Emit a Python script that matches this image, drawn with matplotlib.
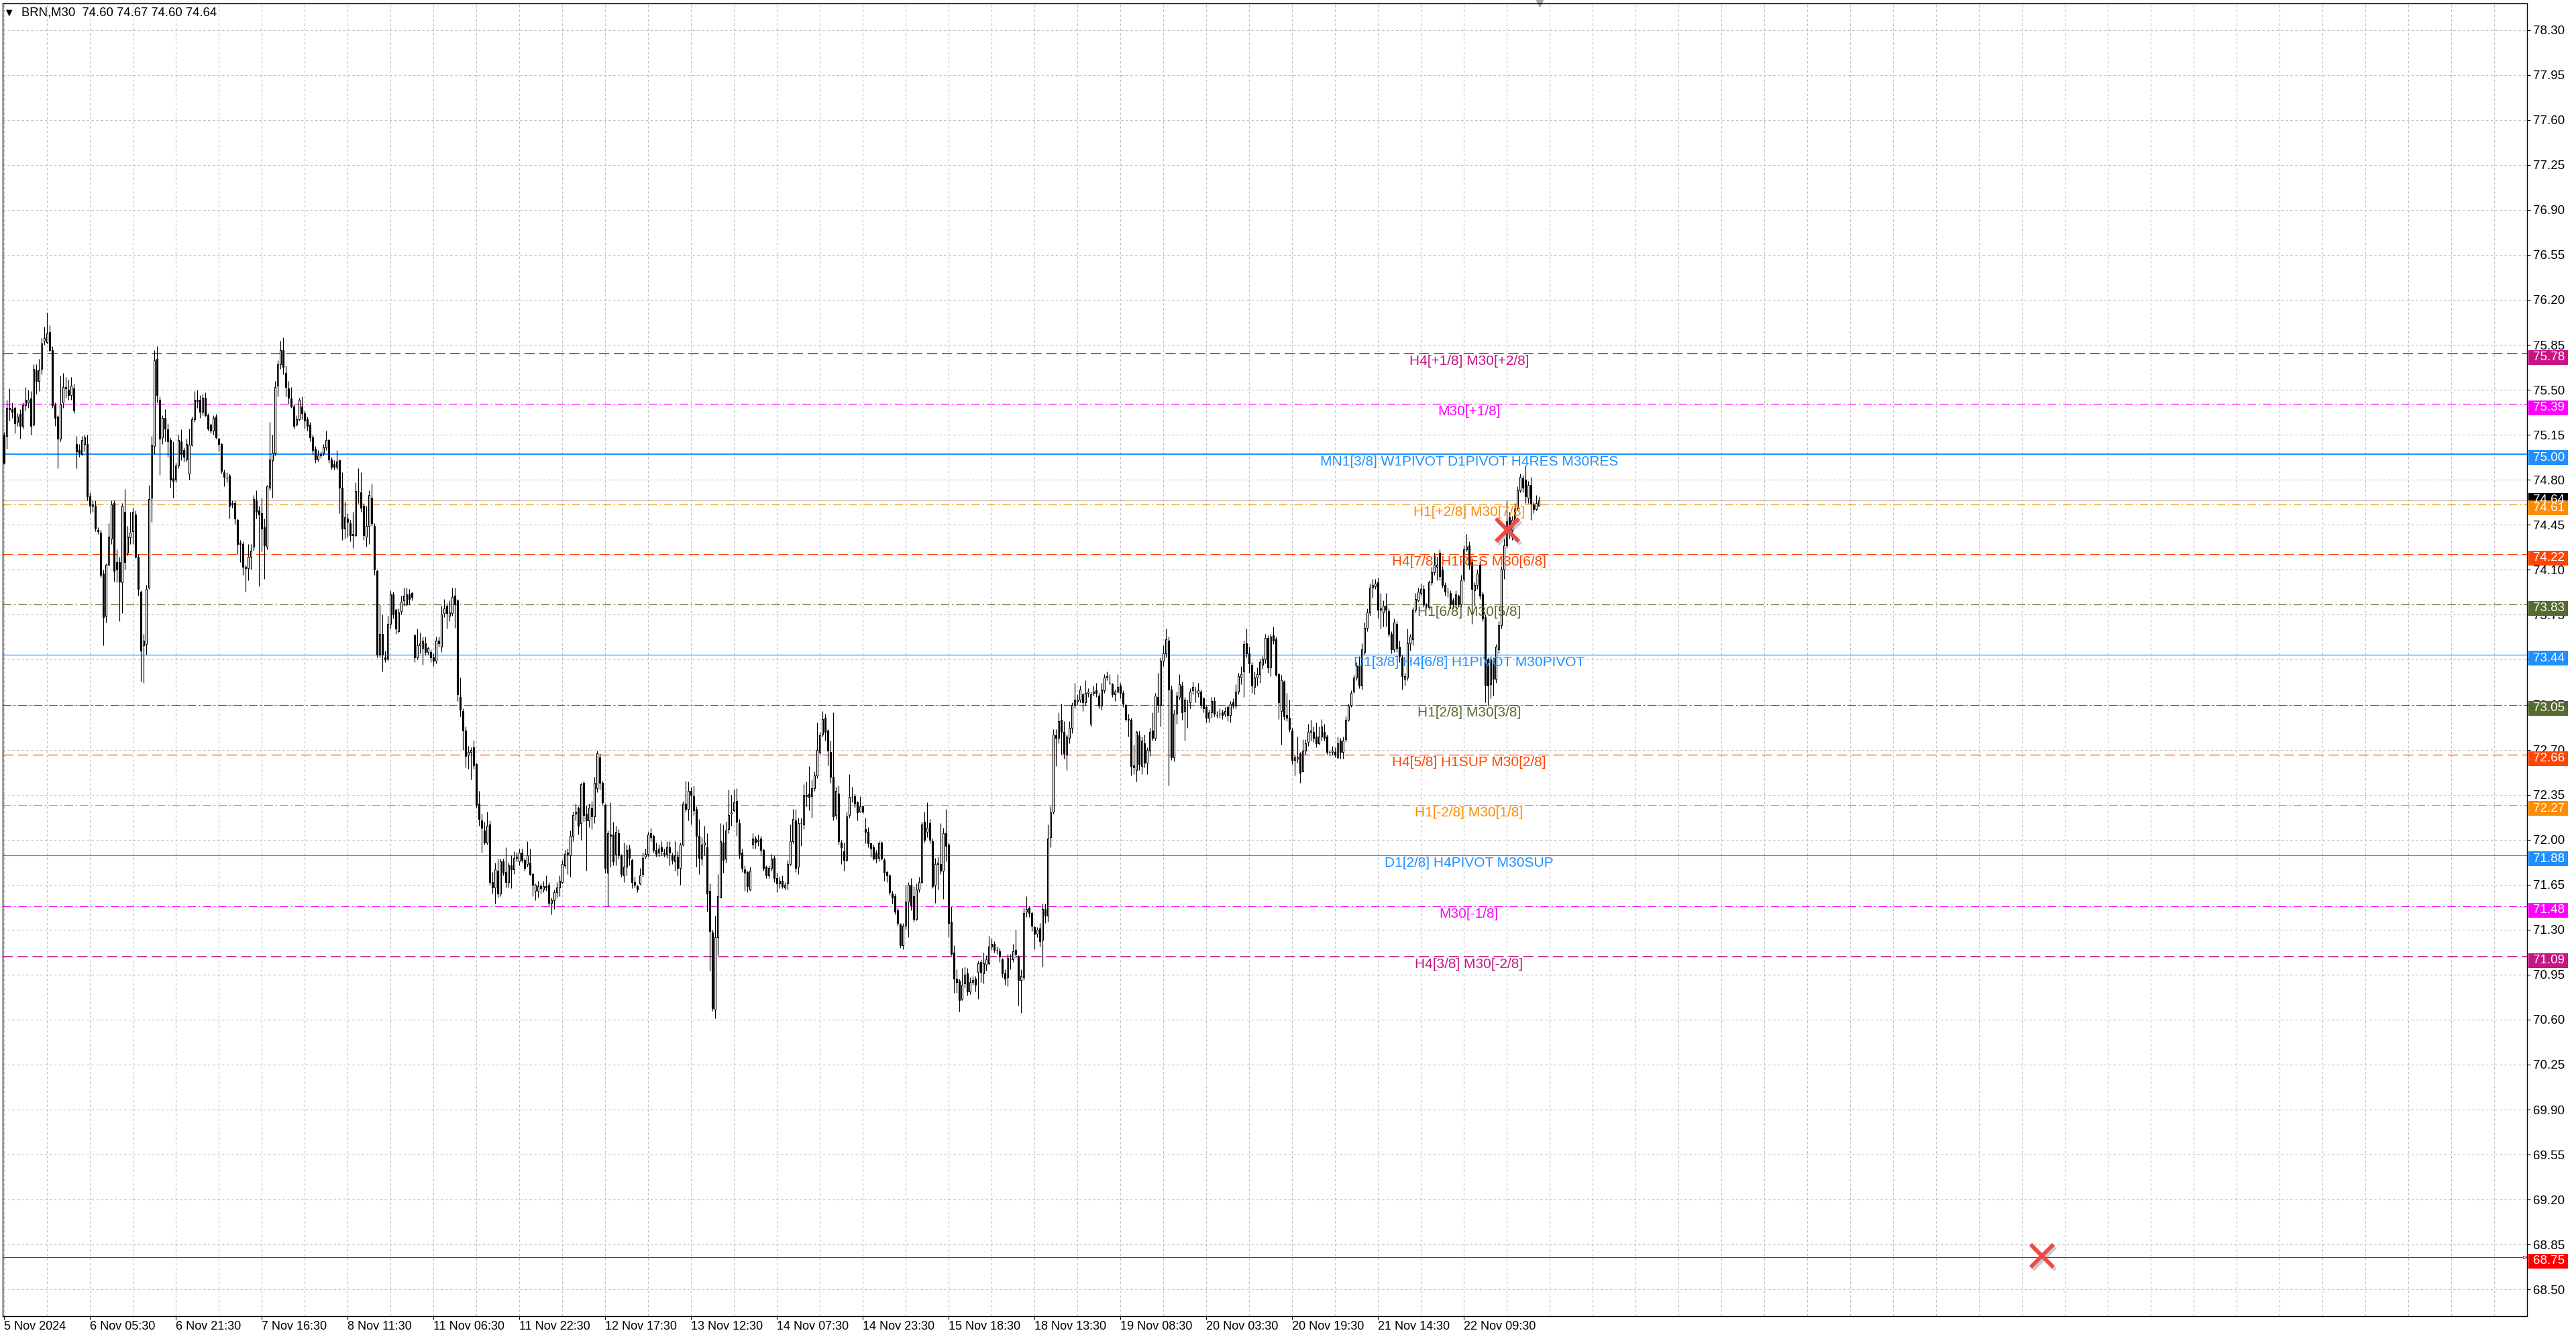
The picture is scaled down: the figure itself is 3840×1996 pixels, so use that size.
import numpy as np
import matplotlib.pyplot as plt
from matplotlib.patches import Rectangle
from matplotlib.transforms import blended_transform_factory, offset_copy

plt.rcParams['font.family'] = ['Liberation Sans', 'DejaVu Sans']
plt.rcParams['lines.scale_dashes'] = False

# --- BRN,M30 candles (bar index 0 = 5 Nov 2024) ---
opens = [
    75.15, 75.14, 75.36, 75.35, 75.36, 75.25, 75.31, 75.22, 75.38, 75.40,
    75.43, 75.23, 75.65, 75.57, 75.66, 75.88, 75.87, 75.95, 75.81, 75.38,
    75.29, 75.12, 75.40, 75.52, 75.50, 75.46, 75.51, 75.08, 75.03, 75.00,
    75.08, 75.08, 74.67, 74.61, 74.60, 74.41, 74.39, 74.07, 73.74, 74.14,
    74.34, 74.62, 74.16, 74.16, 74.00, 74.55, 74.23, 74.35, 74.40, 74.53,
    74.20, 73.93, 73.51, 73.52, 73.96, 74.66, 75.06, 75.74, 75.42, 75.13,
    75.28, 75.19, 75.11, 74.81, 74.80, 74.91, 75.10, 75.03, 74.96, 74.85,
    75.07, 75.27, 75.42, 75.42, 75.33, 75.44, 75.30, 75.23, 75.18, 75.29,
    75.12, 75.08, 74.86, 74.81, 74.83, 74.62, 74.62, 74.49, 74.31, 74.30,
    74.11, 74.11, 74.20, 74.28, 74.64, 74.56, 74.54, 74.43, 74.28, 74.74,
    74.95, 75.01, 75.53, 75.70, 75.81, 75.63, 75.51, 75.43, 75.37, 75.23,
    75.27, 75.37, 75.32, 75.27, 75.23, 75.13, 75.04, 74.96, 74.99, 75.01,
    75.05, 75.11, 74.96, 74.92, 74.90, 74.95, 74.74, 74.42, 74.50, 74.46,
    74.37, 74.37, 74.71, 74.70, 74.60, 74.36, 74.44, 74.66, 74.44, 74.09,
    73.44, 73.60, 73.42, 73.41, 73.68, 73.91, 73.79, 73.62, 73.78, 73.86,
    73.83, 73.91, 73.92, 73.59, 73.42, 73.51, 73.49, 73.53, 73.46, 73.46,
    73.42, 73.39, 73.55, 73.50, 73.76, 73.82, 73.74, 73.76, 73.90, 73.86,
    73.11, 73.00, 72.85, 72.66, 72.68, 72.72, 72.59, 72.28, 72.15, 72.07,
    71.98, 72.12, 71.67, 71.63, 71.76, 71.58, 71.83, 71.75, 71.67, 71.80,
    71.77, 71.86, 71.83, 71.90, 71.84, 71.81, 71.82, 71.73, 71.60, 71.60,
    71.64, 71.61, 71.64, 71.65, 71.51, 71.53, 71.59, 71.63, 71.67, 71.80,
    71.90, 71.88, 72.03, 72.20, 72.25, 72.13, 72.44, 72.20, 72.15, 72.25,
    72.18, 72.40, 72.64, 72.44, 72.27, 71.74, 72.04, 72.04, 71.89, 72.05,
    71.88, 71.72, 71.79, 71.93, 71.84, 71.67, 71.64, 71.66, 71.73, 71.87,
    71.89, 72.05, 72.03, 71.92, 71.90, 71.94, 71.90, 71.89, 71.94, 71.88,
    71.83, 71.87, 71.78, 71.96, 72.28, 72.24, 72.38, 72.34, 72.24, 72.03,
    71.85, 71.96, 71.94, 71.60, 71.28, 70.68, 71.24, 71.55, 71.98, 71.85,
    72.08, 72.20, 72.23, 72.30, 72.13, 71.90, 71.77, 71.75, 71.61, 71.96,
    72.01, 71.99, 72.01, 71.92, 71.79, 71.72, 71.78, 71.86, 71.70, 71.66,
    71.68, 71.63, 71.66, 71.81, 71.99, 72.15, 71.79, 72.13, 72.12, 72.34,
    72.36, 72.34, 72.40, 72.50, 72.68, 72.82, 72.95, 72.85, 72.68, 72.49,
    72.19, 72.36, 71.98, 71.91, 71.84, 72.19, 72.33, 72.34, 72.29, 72.22,
    72.26, 72.08, 72.06, 71.97, 71.94, 71.90, 71.86, 71.98, 71.84, 71.75,
    71.72, 71.58, 71.56, 71.45, 71.34, 71.18, 71.33, 71.52, 71.65, 71.56,
    71.38, 71.61, 71.67, 72.14, 72.06, 72.13, 71.99, 71.65, 71.81, 71.81,
    71.76, 72.05, 71.96, 71.36, 71.12, 70.92, 70.90, 70.76, 70.88, 70.96,
    70.82, 70.89, 70.92, 70.97, 71.05, 70.96, 71.03, 71.04, 71.17, 71.19,
    71.14, 71.13, 71.07, 70.96, 70.93, 71.07, 71.07, 71.14, 71.09, 70.91,
    70.93, 71.44, 71.47, 71.43, 71.32, 71.27, 71.31, 71.22, 71.46, 71.41,
    72.02, 72.22, 72.81, 72.79, 72.93, 72.84, 72.66, 72.79, 72.87, 73.05,
    73.08, 73.09, 73.13, 73.07, 73.14, 72.90, 73.14, 73.16, 73.12, 73.04,
    73.16, 73.26, 73.22, 73.21, 73.13, 73.15, 73.20, 73.14, 73.05, 72.94,
    72.93, 72.58, 72.54, 72.81, 72.57, 72.75, 72.60, 72.69, 72.85, 72.79,
    73.11, 73.05, 73.39, 73.45, 73.55, 73.17, 72.64, 72.98, 73.11, 73.20,
    73.00, 73.06, 73.07, 73.16, 73.15, 73.14, 73.15, 73.10, 73.03, 72.95,
    72.99, 73.08, 72.97, 72.98, 72.99, 72.98, 73.03, 72.97, 73.07, 73.04,
    73.15, 73.26, 73.31, 73.53, 73.45, 73.36, 73.19, 73.26, 73.29, 73.36,
    73.40, 73.57, 73.34, 73.59, 73.56, 73.29, 73.00, 73.23, 72.97, 72.95,
    72.85, 72.62, 72.63, 72.67, 72.53, 72.69, 72.76, 72.84, 72.84, 72.80,
    72.75, 72.80, 72.84, 72.80, 72.68, 72.68, 72.68, 72.64, 72.77, 72.68,
    72.78, 72.93, 73.05, 73.15, 73.26, 73.35, 73.20, 73.46, 73.65, 73.77,
    73.96, 73.97, 74.00, 73.80, 73.77, 73.82, 73.78, 73.60, 73.48, 73.68,
    73.50, 73.42, 73.25, 73.26, 73.53, 73.56, 73.79, 73.86, 73.92, 73.95,
    73.83, 73.81, 74.00, 74.08, 74.12, 74.23, 74.10, 73.98, 73.93, 73.92,
    73.86, 73.83, 73.90, 73.83, 74.03, 74.26, 74.29, 74.16, 73.94, 73.98,
    74.14, 73.91, 73.73, 73.40, 73.21, 73.40, 73.25, 73.48, 73.67, 74.10,
    74.29, 74.51, 74.41, 74.49, 74.58, 74.72, 74.81, 74.80, 74.66, 74.76,
    74.61, 74.57, 74.60,
]
highs = [
    75.17, 75.42, 75.51, 75.40, 75.37, 75.32, 75.35, 75.40, 75.52, 75.50,
    75.49, 75.70, 75.70, 75.74, 75.90, 75.99, 76.10, 76.00, 75.84, 75.40,
    75.30, 75.61, 75.63, 75.60, 75.58, 75.60, 75.55, 75.14, 75.08, 75.14,
    75.15, 75.15, 74.70, 74.64, 74.64, 74.43, 74.41, 74.10, 74.15, 74.46,
    74.64, 74.64, 74.26, 74.20, 74.62, 74.73, 74.44, 74.55, 74.58, 74.56,
    74.22, 73.94, 73.60, 73.98, 74.76, 75.14, 75.81, 75.84, 75.45, 75.30,
    75.35, 75.24, 75.13, 75.10, 74.93, 75.15, 75.19, 75.05, 75.12, 75.20,
    75.29, 75.49, 75.50, 75.46, 75.47, 75.48, 75.32, 75.24, 75.30, 75.31,
    75.13, 75.09, 74.88, 74.86, 74.85, 74.64, 74.64, 74.50, 74.33, 74.32,
    74.14, 74.30, 74.30, 74.68, 74.72, 74.60, 74.66, 74.50, 74.76, 75.25,
    75.15, 75.57, 75.73, 75.88, 75.91, 75.69, 75.57, 75.52, 75.39, 75.30,
    75.44, 75.45, 75.34, 75.29, 75.25, 75.15, 75.06, 75.03, 75.02, 75.08,
    75.18, 75.12, 74.98, 74.95, 75.03, 74.96, 74.86, 74.63, 74.54, 74.49,
    74.55, 74.78, 74.89, 74.86, 74.62, 74.60, 74.72, 74.77, 74.46, 74.10,
    73.83, 73.75, 73.47, 73.74, 73.94, 73.93, 73.80, 73.80, 73.90, 73.96,
    73.96, 73.95, 73.93, 73.60, 73.64, 73.61, 73.58, 73.58, 73.50, 73.48,
    73.45, 73.58, 73.58, 73.82, 73.87, 73.84, 73.86, 73.96, 73.96, 73.87,
    73.26, 73.02, 72.88, 72.73, 72.72, 72.77, 72.60, 72.38, 72.20, 72.14,
    72.22, 72.15, 71.75, 71.82, 71.85, 71.85, 71.85, 71.94, 71.82, 71.88,
    71.91, 71.90, 71.93, 71.93, 71.86, 71.99, 71.93, 71.74, 71.66, 71.68,
    71.66, 71.68, 71.72, 71.67, 71.55, 71.61, 71.67, 71.72, 71.84, 71.92,
    71.93, 72.07, 72.22, 72.28, 72.26, 72.44, 72.46, 72.27, 72.28, 72.30,
    72.49, 72.69, 72.67, 72.46, 72.28, 72.07, 72.29, 72.14, 72.11, 72.08,
    71.89, 71.98, 71.96, 71.96, 71.85, 71.71, 71.65, 71.78, 71.90, 71.93,
    72.06, 72.09, 72.04, 71.98, 71.96, 71.99, 71.93, 71.99, 71.99, 71.90,
    71.99, 71.91, 71.98, 72.30, 72.46, 72.45, 72.41, 72.42, 72.26, 72.16,
    72.02, 72.11, 72.05, 71.66, 71.30, 71.41, 71.73, 72.13, 72.12, 72.14,
    72.39, 72.35, 72.39, 72.40, 72.16, 71.93, 71.80, 71.76, 71.79, 72.05,
    72.03, 72.04, 72.03, 71.93, 71.80, 71.80, 71.89, 71.88, 71.74, 71.71,
    71.72, 71.67, 71.84, 72.12, 72.24, 72.24, 72.17, 72.17, 72.43, 72.45,
    72.57, 72.47, 72.53, 72.91, 72.84, 73.00, 72.98, 72.86, 72.77, 72.99,
    72.41, 72.42, 72.00, 71.98, 72.22, 72.51, 72.41, 72.36, 72.30, 72.34,
    72.27, 72.17, 72.10, 71.98, 71.96, 71.92, 71.99, 71.99, 71.86, 71.76,
    71.73, 71.60, 71.58, 71.47, 71.35, 71.35, 71.65, 71.67, 71.70, 71.64,
    71.66, 71.71, 72.14, 72.22, 72.29, 72.16, 72.01, 71.86, 71.87, 72.13,
    72.09, 72.24, 71.98, 71.48, 71.18, 70.99, 70.92, 71.00, 71.01, 71.00,
    70.93, 70.94, 70.94, 71.06, 71.07, 71.12, 71.10, 71.25, 71.23, 71.21,
    71.17, 71.16, 71.08, 70.99, 71.11, 71.11, 71.19, 71.30, 71.10, 70.99,
    71.47, 71.56, 71.48, 71.44, 71.33, 71.32, 71.35, 71.50, 71.50, 72.12,
    72.26, 72.86, 72.86, 72.99, 73.06, 72.92, 72.82, 72.92, 73.07, 73.22,
    73.13, 73.20, 73.14, 73.24, 73.18, 73.15, 73.20, 73.22, 73.14, 73.22,
    73.29, 73.31, 73.29, 73.22, 73.17, 73.29, 73.22, 73.16, 73.06, 72.98,
    72.95, 72.74, 72.85, 72.85, 72.80, 72.82, 72.72, 72.87, 72.99, 73.14,
    73.30, 73.42, 73.51, 73.64, 73.58, 73.20, 73.01, 73.15, 73.29, 73.23,
    73.11, 73.09, 73.18, 73.23, 73.19, 73.22, 73.17, 73.11, 73.04, 73.01,
    73.11, 73.11, 73.00, 73.02, 73.01, 73.03, 73.05, 73.08, 73.10, 73.21,
    73.30, 73.35, 73.55, 73.64, 73.50, 73.38, 73.31, 73.34, 73.41, 73.43,
    73.60, 73.59, 73.60, 73.66, 73.58, 73.30, 73.28, 73.24, 73.14, 73.09,
    72.87, 72.66, 72.80, 72.68, 72.78, 72.78, 72.90, 72.93, 72.88, 72.91,
    72.88, 72.94, 72.90, 72.82, 72.70, 72.73, 72.72, 72.80, 72.79, 72.80,
    72.96, 73.06, 73.16, 73.28, 73.38, 73.43, 73.53, 73.69, 73.80, 73.99,
    74.03, 74.03, 74.04, 73.92, 73.86, 73.92, 73.80, 73.62, 73.72, 73.70,
    73.55, 73.44, 73.30, 73.64, 73.60, 73.81, 73.92, 73.96, 73.99, 73.98,
    73.84, 74.02, 74.12, 74.23, 74.20, 74.26, 74.13, 74.00, 73.96, 73.94,
    73.88, 73.94, 73.91, 74.06, 74.29, 74.38, 74.32, 74.19, 74.00, 74.10,
    74.17, 73.93, 73.75, 73.42, 73.43, 73.42, 73.52, 73.70, 74.13, 74.34,
    74.64, 74.55, 74.52, 74.62, 74.75, 74.85, 74.84, 74.91, 74.79, 74.82,
    74.63, 74.68, 74.67,
]
lows = [
    74.92, 75.04, 75.26, 75.28, 75.16, 75.22, 75.12, 75.20, 75.34, 75.36,
    75.15, 75.22, 75.47, 75.49, 75.62, 75.85, 75.86, 75.80, 75.36, 75.22,
    74.89, 75.10, 75.36, 75.44, 75.42, 75.42, 75.32, 74.89, 74.98, 74.99,
    75.02, 74.64, 74.54, 74.55, 74.40, 74.38, 74.04, 73.51, 73.69, 74.14,
    74.30, 74.01, 74.00, 73.70, 73.76, 74.10, 74.21, 74.30, 74.30, 74.19,
    73.90, 73.23, 73.22, 73.44, 73.95, 74.47, 75.00, 75.40, 74.84, 75.08,
    75.10, 74.98, 74.74, 74.66, 74.78, 74.89, 74.95, 74.94, 74.94, 74.80,
    75.06, 75.25, 75.36, 75.28, 75.30, 75.29, 75.18, 75.16, 75.15, 75.12,
    75.02, 74.85, 74.75, 74.78, 74.50, 74.58, 74.45, 74.22, 74.16, 74.06,
    73.93, 74.02, 74.10, 74.25, 74.50, 73.97, 74.24, 74.03, 74.26, 74.72,
    74.66, 74.99, 75.45, 75.66, 75.62, 75.45, 75.39, 75.36, 75.20, 75.22,
    75.26, 75.27, 75.20, 75.18, 75.10, 75.00, 74.93, 74.94, 74.97, 74.99,
    75.03, 74.93, 74.88, 74.88, 74.88, 74.54, 74.33, 74.34, 74.36, 74.32,
    74.27, 74.36, 74.62, 74.55, 74.33, 74.28, 74.30, 74.44, 74.06, 73.42,
    73.42, 73.31, 73.38, 73.39, 73.64, 73.72, 73.60, 73.61, 73.75, 73.82,
    73.82, 73.83, 73.86, 73.38, 73.40, 73.45, 73.36, 73.44, 73.44, 73.38,
    73.35, 73.37, 73.50, 73.46, 73.73, 73.64, 73.70, 73.74, 73.65, 73.08,
    72.96, 72.70, 72.56, 72.55, 72.47, 72.55, 72.25, 72.11, 71.90, 71.96,
    71.96, 71.65, 71.58, 71.50, 71.55, 71.56, 71.72, 71.63, 71.63, 71.62,
    71.73, 71.83, 71.80, 71.82, 71.76, 71.79, 71.72, 71.56, 71.53, 71.55,
    71.58, 71.59, 71.60, 71.48, 71.42, 71.46, 71.55, 71.56, 71.66, 71.78,
    71.73, 71.71, 71.99, 72.15, 72.04, 72.00, 72.14, 71.76, 72.10, 72.08,
    72.13, 72.37, 72.39, 72.27, 71.74, 71.48, 71.79, 71.80, 71.80, 71.85,
    71.71, 71.67, 71.72, 71.80, 71.62, 71.63, 71.59, 71.65, 71.71, 71.85,
    71.87, 71.99, 71.90, 71.87, 71.87, 71.88, 71.87, 71.86, 71.80, 71.81,
    71.76, 71.72, 71.65, 71.95, 72.22, 72.15, 72.12, 72.19, 71.79, 71.73,
    71.80, 71.88, 71.44, 70.98, 70.67, 70.61, 71.10, 71.55, 71.74, 71.82,
    72.05, 72.11, 72.22, 72.03, 71.85, 71.75, 71.60, 71.59, 71.60, 71.93,
    71.93, 71.95, 71.88, 71.76, 71.70, 71.70, 71.76, 71.67, 71.59, 71.62,
    71.62, 71.61, 71.61, 71.80, 71.97, 71.75, 71.73, 71.95, 72.08, 72.26,
    72.23, 72.17, 72.38, 72.48, 72.66, 72.80, 72.77, 72.58, 72.44, 72.15,
    72.16, 71.96, 71.81, 71.76, 71.83, 72.17, 72.29, 72.25, 72.15, 72.21,
    72.20, 71.97, 71.94, 71.87, 71.84, 71.82, 71.83, 71.84, 71.68, 71.67,
    71.57, 71.50, 71.42, 71.33, 71.16, 71.15, 71.30, 71.24, 71.45, 71.36,
    71.37, 71.59, 71.66, 71.98, 72.02, 71.97, 71.62, 71.51, 71.61, 71.73,
    71.54, 71.83, 71.24, 71.10, 70.81, 70.81, 70.66, 70.75, 70.85, 70.79,
    70.80, 70.87, 70.82, 70.76, 70.89, 70.88, 70.98, 71.03, 71.14, 71.12,
    71.11, 71.05, 70.93, 70.87, 70.86, 70.99, 71.05, 71.08, 70.71, 70.65,
    70.91, 71.40, 71.40, 71.29, 71.15, 71.24, 71.17, 71.01, 71.35, 71.36,
    71.94, 72.20, 72.57, 72.75, 72.66, 72.63, 72.54, 72.75, 72.83, 73.02,
    73.05, 73.07, 73.00, 73.05, 73.11, 72.88, 73.12, 73.11, 73.02, 73.01,
    73.14, 73.24, 73.21, 73.11, 73.08, 73.14, 73.10, 73.03, 72.92, 72.80,
    72.50, 72.51, 72.45, 72.54, 72.51, 72.56, 72.51, 72.65, 72.77, 72.77,
    72.99, 72.88, 73.35, 73.42, 72.42, 72.62, 72.61, 72.90, 73.09, 72.93,
    72.77, 72.87, 73.02, 73.13, 73.07, 73.11, 73.02, 72.99, 72.91, 72.91,
    72.95, 72.96, 72.95, 72.95, 72.94, 72.96, 72.92, 72.91, 73.02, 73.02,
    73.13, 73.21, 73.11, 73.42, 73.30, 73.14, 73.13, 73.20, 73.22, 73.33,
    73.37, 73.30, 73.27, 73.52, 73.27, 72.94, 72.74, 72.93, 72.92, 72.84,
    72.59, 72.50, 72.60, 72.44, 72.53, 72.66, 72.73, 72.77, 72.76, 72.72,
    72.74, 72.77, 72.77, 72.66, 72.65, 72.66, 72.64, 72.63, 72.63, 72.63,
    72.76, 72.92, 73.03, 73.14, 73.24, 73.18, 73.17, 73.44, 73.62, 73.74,
    73.88, 73.95, 73.72, 73.64, 73.66, 73.66, 73.58, 73.45, 73.46, 73.46,
    73.38, 73.17, 73.20, 73.24, 73.47, 73.51, 73.77, 73.85, 73.90, 73.81,
    73.80, 73.79, 73.98, 74.06, 74.02, 74.02, 73.96, 73.90, 73.89, 73.80,
    73.80, 73.80, 73.81, 73.81, 74.01, 74.24, 74.10, 73.68, 73.82, 73.95,
    73.87, 73.70, 73.07, 73.04, 73.10, 73.12, 73.22, 73.45, 73.64, 74.03,
    74.27, 74.34, 74.33, 74.47, 74.56, 74.70, 74.70, 74.62, 74.62, 74.49,
    74.54, 74.56, 74.60,
]
closes = [
    74.93, 75.36, 75.35, 75.33, 75.24, 75.29, 75.22, 75.38, 75.42, 75.42,
    75.22, 75.66, 75.57, 75.65, 75.86, 75.90, 75.94, 75.81, 75.38, 75.28,
    75.12, 75.39, 75.52, 75.51, 75.46, 75.53, 75.34, 75.02, 75.01, 75.11,
    75.13, 74.67, 74.60, 74.60, 74.42, 74.40, 74.06, 73.73, 74.14, 74.36,
    74.61, 74.09, 74.10, 74.01, 74.60, 74.16, 74.36, 74.39, 74.55, 74.20,
    73.95, 73.47, 73.55, 73.95, 74.65, 75.07, 75.73, 75.46, 75.12, 75.28,
    75.20, 75.10, 74.80, 74.79, 74.91, 75.11, 75.00, 74.98, 75.08, 75.07,
    75.27, 75.42, 75.41, 75.33, 75.44, 75.30, 75.20, 75.18, 75.28, 75.13,
    75.08, 74.87, 74.82, 74.81, 74.60, 74.61, 74.50, 74.30, 74.30, 74.12,
    74.12, 74.20, 74.25, 74.65, 74.55, 74.53, 74.42, 74.29, 74.75, 74.96,
    75.01, 75.52, 75.70, 75.81, 75.68, 75.52, 75.44, 75.37, 75.22, 75.27,
    75.42, 75.32, 75.26, 75.22, 75.13, 75.03, 74.96, 74.99, 75.00, 75.05,
    75.11, 74.96, 74.90, 74.90, 74.94, 74.74, 74.42, 74.51, 74.47, 74.37,
    74.38, 74.71, 74.71, 74.58, 74.37, 74.44, 74.68, 74.46, 74.10, 73.44,
    73.60, 73.44, 73.40, 73.68, 73.91, 73.75, 73.64, 73.77, 73.85, 73.90,
    73.91, 73.87, 73.89, 73.42, 73.51, 73.53, 73.55, 73.46, 73.49, 73.42,
    73.39, 73.55, 73.53, 73.75, 73.80, 73.76, 73.77, 73.89, 73.83, 73.13,
    73.01, 72.85, 72.65, 72.68, 72.70, 72.58, 72.27, 72.16, 72.09, 71.98,
    72.11, 71.67, 71.63, 71.77, 71.58, 71.83, 71.74, 71.67, 71.80, 71.77,
    71.86, 71.87, 71.90, 71.84, 71.78, 71.88, 71.73, 71.65, 71.65, 71.64,
    71.62, 71.64, 71.63, 71.51, 71.53, 71.59, 71.63, 71.68, 71.81, 71.89,
    71.89, 72.03, 72.19, 72.22, 72.11, 72.43, 72.19, 72.15, 72.25, 72.18,
    72.44, 72.67, 72.44, 72.29, 71.78, 72.05, 72.03, 71.83, 72.06, 71.88,
    71.73, 71.79, 71.92, 71.86, 71.67, 71.65, 71.61, 71.72, 71.86, 71.89,
    72.04, 72.02, 71.92, 71.89, 71.93, 71.91, 71.89, 71.94, 71.90, 71.84,
    71.88, 71.78, 71.96, 72.28, 72.24, 72.38, 72.35, 72.23, 72.03, 71.86,
    71.96, 71.98, 71.58, 71.29, 70.69, 71.24, 71.56, 71.99, 71.84, 72.07,
    72.19, 72.21, 72.29, 72.14, 71.89, 71.78, 71.74, 71.64, 71.76, 72.01,
    71.98, 72.00, 71.92, 71.78, 71.72, 71.78, 71.85, 71.70, 71.66, 71.68,
    71.64, 71.65, 71.81, 71.99, 72.16, 71.78, 72.13, 72.13, 72.35, 72.35,
    72.33, 72.40, 72.50, 72.70, 72.81, 72.94, 72.84, 72.69, 72.49, 72.18,
    72.38, 71.99, 71.94, 71.84, 72.18, 72.33, 72.33, 72.28, 72.21, 72.26,
    72.22, 72.06, 71.97, 71.93, 71.85, 71.85, 71.97, 71.85, 71.75, 71.72,
    71.59, 71.55, 71.44, 71.35, 71.18, 71.33, 71.52, 71.65, 71.49, 71.38,
    71.61, 71.67, 72.12, 72.00, 72.09, 72.00, 71.64, 71.81, 71.82, 71.76,
    72.05, 71.95, 71.35, 71.11, 70.92, 70.89, 70.75, 70.87, 70.95, 70.82,
    70.89, 70.91, 70.87, 71.04, 70.97, 71.04, 71.07, 71.17, 71.19, 71.14,
    71.14, 71.09, 70.96, 70.92, 71.08, 71.07, 71.13, 71.11, 70.91, 70.94,
    71.43, 71.46, 71.43, 71.33, 71.27, 71.30, 71.21, 71.46, 71.41, 72.01,
    72.21, 72.82, 72.79, 72.92, 72.84, 72.67, 72.80, 72.87, 73.05, 73.09,
    73.09, 73.17, 73.07, 73.14, 73.15, 73.13, 73.15, 73.14, 73.04, 73.17,
    73.26, 73.27, 73.22, 73.13, 73.15, 73.19, 73.14, 73.06, 72.94, 72.93,
    72.57, 72.56, 72.84, 72.59, 72.77, 72.60, 72.70, 72.84, 72.79, 73.12,
    73.05, 73.39, 73.45, 73.56, 73.17, 72.64, 72.98, 73.12, 73.21, 72.99,
    73.09, 73.06, 73.15, 73.19, 73.15, 73.16, 73.05, 73.02, 72.95, 72.99,
    73.08, 72.98, 72.97, 72.98, 72.97, 73.00, 72.97, 73.06, 73.04, 73.15,
    73.27, 73.29, 73.52, 73.45, 73.37, 73.20, 73.26, 73.29, 73.38, 73.41,
    73.57, 73.34, 73.58, 73.55, 73.28, 73.07, 73.24, 72.96, 72.95, 72.86,
    72.62, 72.64, 72.64, 72.52, 72.69, 72.75, 72.84, 72.85, 72.79, 72.75,
    72.80, 72.88, 72.79, 72.68, 72.68, 72.69, 72.66, 72.75, 72.68, 72.77,
    72.93, 73.04, 73.14, 73.26, 73.35, 73.20, 73.48, 73.65, 73.77, 73.96,
    73.98, 73.99, 73.79, 73.79, 73.82, 73.79, 73.60, 73.48, 73.69, 73.49,
    73.43, 73.27, 73.27, 73.53, 73.58, 73.79, 73.87, 73.93, 73.95, 73.83,
    73.82, 74.00, 74.08, 74.14, 74.14, 74.05, 73.98, 73.93, 73.93, 73.83,
    73.83, 73.91, 73.83, 74.02, 74.26, 74.28, 74.14, 73.95, 73.98, 74.07,
    73.90, 73.72, 73.20, 73.20, 73.40, 73.25, 73.50, 73.67, 74.10, 74.29,
    74.48, 74.41, 74.49, 74.58, 74.72, 74.82, 74.74, 74.67, 74.76, 74.62,
    74.57, 74.62, 74.64,
]

# x-axis labels, one every 32 bars
time_labels = ['5 Nov 2024', '6 Nov 05:30', '6 Nov 21:30', '7 Nov 16:30', '8 Nov 11:30',
               '11 Nov 06:30', '11 Nov 22:30', '12 Nov 17:30', '13 Nov 12:30', '14 Nov 07:30',
               '14 Nov 23:30', '15 Nov 18:30', '18 Nov 13:30', '19 Nov 08:30', '20 Nov 03:30',
               '20 Nov 19:30', '21 Nov 14:30', '22 Nov 09:30']

# price axis ticks
price_ticks = [78.30, 77.95, 77.60, 77.25, 76.90, 76.55, 76.20, 75.85, 75.50, 75.15, 74.80,
               74.45, 74.10, 73.75, 73.40, 73.05, 72.70, 72.35, 72.00, 71.65, 71.30, 70.95,
               70.60, 70.25, 69.90, 69.55, 69.20, 68.85, 68.50]

# Murrey math levels
level_prices = [75.78, 75.39, 75.00, 74.61, 74.22, 73.83, 73.44, 73.05, 72.66, 72.27, 71.88, 71.48, 71.09]
level_names = ['H4[+1/8] M30[+2/8]', 'M30[+1/8]', 'MN1[3/8] W1PIVOT D1PIVOT H4RES M30RES',
               'H1[+2/8] M30[7/8]', 'H4[7/8] H1RES M30[6/8]', 'H1[6/8] M30[5/8]',
               'D1[3/8] H4[6/8] H1PIVOT M30PIVOT', 'H1[2/8] M30[3/8]', 'H4[5/8] H1SUP M30[2/8]',
               'H1[-2/8] M30[1/8]', 'D1[2/8] H4PIVOT M30SUP', 'M30[-1/8]', 'H4[3/8] M30[-2/8]']
level_colors = ['#C71585', '#FF00FF', '#1E90FF', '#FF8C00', '#FF4500', '#556B2F', '#1E90FF',
                '#556B2F', '#FF4500', '#FF8C00', '#1E90FF', '#FF00FF', '#C71585']
level_kinds = ['dash', 'dashdot', 'thick', 'dashdot', 'dash', 'dashdot', 'solid',
               'dashdot', 'dash', 'dashdot', 'solid', 'dashdot', 'dash']

last_price = 74.64
stop_price = 68.75
cross_x = [560.3, 759.5]
cross_y = [74.41, 68.76]

# ------------------------------------------------------------------
W, H, DPI = 3840, 1996, 100
fig = plt.figure(figsize=(W / DPI, H / DPI), dpi=DPI, facecolor='white')
px0, px1, py0, py1 = 3.5, 3767.0, 5.0, 1962.0
ax = fig.add_axes([px0 / W, 1 - py1 / H, (px1 - px0) / W, (py1 - py0) / H])
ax.set_facecolor('white')

ppu = 191.6  # pixels per price unit
ax.set_xlim((px0 - 5.8) / 4, (px1 - 5.8) / 4)
ax.set_ylim(78.30 - (py1 - 44.6) / ppu, 78.30 + (44.6 - py0) / ppu)

# dotted grid
grid_kw = dict(color='#BEBEBE', lw=0.8, ls=(0, (2.5, 2.5)), zorder=0)
for p in price_ticks:
    ax.axhline(p, **grid_kw)
for gx in range(0, 940, 16):
    ax.axvline(gx, **grid_kw)

# level lines
styles = {'dash': dict(ls=(0, (11, 5)), lw=0.9),
          'dashdot': dict(ls=(0, (9, 3, 1.5, 3)), lw=0.85),
          'thick': dict(ls='-', lw=1.5),
          'solid': dict(ls='-', lw=0.85)}
for p, col, kind in zip(level_prices, level_colors, level_kinds):
    kw = dict(styles[kind])
    if kind == 'dash' and p in (75.78, 71.09):
        kw['lw'] = 1.2
    ax.axhline(p, color=col, zorder=1, **kw)
ax.axhline(last_price, color='#B4B4B4', lw=0.85, zorder=1)
ax.axhline(stop_price, color='#FF0000', lw=0.85, zorder=1)
ax.plot([939.4], [stop_price], 's', ms=3, mfc='white', mec='#FF0000', mew=0.7, zorder=2)

# level texts
for p, name, col in zip(level_prices, level_names, level_colors):
    ax.text(546, p, name, color=col, fontsize=15, ha='center', va='top', zorder=5,
            transform=offset_copy(ax.transData, fig=fig, y=-2, units='dots'))

# candles
o = np.array(opens); h = np.array(highs); l = np.array(lows); c = np.array(closes)
n = min(len(o), len(h), len(l), len(c))
o, h, l, c = o[:n], h[:n], l[:n], c[:n]
idx = np.arange(n)
up = c >= o
ax.vlines(idx, l, h, color='black', lw=0.85, zorder=3)
lo = np.minimum(o, c)
hh = np.abs(c - o)
ax.bar(idx[up], hh[up], bottom=lo[up], width=0.58, facecolor='white',
       edgecolor='black', linewidth=0.8, zorder=4)
ax.bar(idx[~up], hh[~up], bottom=lo[~up], width=0.58, facecolor='black',
       edgecolor='black', linewidth=0.8, zorder=4)

# red crosses with soft shadow
shadow = offset_copy(ax.transData, fig=fig, x=3, y=-4, units='dots')
ax.plot(cross_x, cross_y, 'x', ms=24, mew=4.2, color='#707070', alpha=0.35,
        transform=shadow, zorder=6, ls='none')
ax.plot(cross_x, cross_y, 'x', ms=24, mew=4.2, color='#F04848', zorder=7, ls='none')

# chart shift marker at top
ax.plot([572.3], [1.0], 'v', ms=7, color='#A8A8A8',
        transform=blended_transform_factory(ax.transData, ax.transAxes), clip_on=False)

# axes
for s in ax.spines.values():
    s.set_color('black')
    s.set_linewidth(1.0)
ax.yaxis.tick_right()
ax.set_yticks(price_ticks)
ax.set_yticklabels([f'{p:.2f}' for p in price_ticks])
ax.tick_params(axis='y', direction='out', length=3.6, width=0.8, pad=2.8, labelsize=13.5)
ax.set_xticks(np.arange(len(time_labels)) * 32)
ax.set_xticklabels(time_labels, ha='left')
ax.tick_params(axis='x', direction='out', length=3.6, width=0.8, pad=1.5, labelsize=13)

# price boxes on the right axis
btr = blended_transform_factory(ax.transAxes, ax.transData)
bx0 = (3769 - px0) / (px1 - px0)
bx1 = (3828 - px0) / (px1 - px0)
tx = (3776 - px0) / (px1 - px0)
bh = 22 / ppu
boxes = list(zip(level_prices[:4], level_colors[:4]))
boxes = boxes[:3] + [(last_price, 'black')] + boxes[3:]
boxes += list(zip(level_prices[4:], level_colors[4:])) + [(stop_price, '#FF0000')]
for p, col in boxes:
    cy = p if col == 'black' else p - 5.5 / ppu
    ax.add_patch(Rectangle((bx0, cy - bh / 2), bx1 - bx0, bh, transform=btr,
                           facecolor=col, edgecolor='none', clip_on=False, zorder=10))
    ax.text(tx, cy, f'{p:.2f}', transform=btr, color='white', fontsize=13.5,
            va='center', ha='left', clip_on=False, zorder=11)

# header
fig.text(14 / W, 1 - 19 / H, '\u25bc', fontsize=9, family='DejaVu Sans',
         ha='center', va='center')
fig.text(31.6 / W, 1 - 19 / H, 'BRN,M30  74.60 74.67 74.60 74.64', fontsize=13.3,
         ha='left', va='center')

fig.savefig('out.png', dpi=DPI, facecolor='white')
